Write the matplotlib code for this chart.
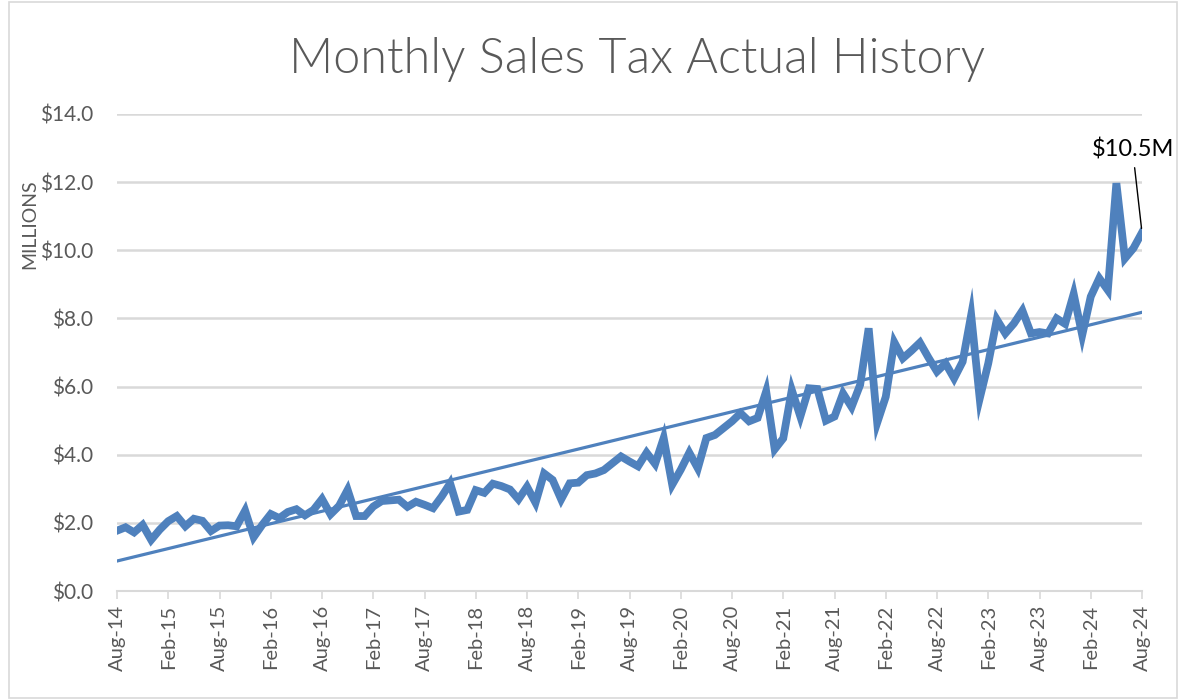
import matplotlib
matplotlib.use('Agg')
import matplotlib.pyplot as plt
from matplotlib.patches import Rectangle
import numpy as np
import pandas as pd

# monthly sales tax, millions of dollars, Aug-14 .. Aug-24
start_month = '2014-08-01'
sales = [
    1.77, 1.87, 1.72, 1.94, 1.50, 1.80, 2.05, 2.20, 1.90, 2.12, 2.06, 1.76,
    1.92, 1.93, 1.90, 2.36, 1.58, 1.94, 2.26, 2.14, 2.32, 2.40, 2.22, 2.38,
    2.70, 2.25, 2.50, 2.97, 2.20, 2.20, 2.48, 2.64, 2.66, 2.68, 2.47, 2.62,
    2.53, 2.43, 2.77, 3.16, 2.33, 2.38, 2.96, 2.88, 3.15, 3.08, 2.98, 2.69,
    3.06, 2.59, 3.45, 3.26, 2.69, 3.16, 3.18, 3.40, 3.45, 3.55, 3.75, 3.95,
    3.80, 3.66, 4.06, 3.73, 4.49, 3.12, 3.56, 4.06, 3.60, 4.49, 4.58, 4.78,
    4.98, 5.22, 4.98, 5.08, 5.86, 4.16, 4.48, 5.90, 5.12, 5.95, 5.93, 5.00,
    5.12, 5.80, 5.40, 6.05, 7.71, 4.94, 5.70, 7.30, 6.83, 7.05, 7.29, 6.85,
    6.44, 6.68, 6.24, 6.73, 8.10, 5.65, 6.68, 7.97, 7.56, 7.85, 8.23, 7.56,
    7.60, 7.56, 8.00, 7.84, 8.72, 7.51, 8.64, 9.18, 8.83, 11.97, 9.76, 10.06,
    10.52,
]
# linear trendline, value at first and last month
trend_ends = [0.88, 8.18]
y_ticks = [0, 2, 4, 6, 8, 10, 12, 14]
last_label = '$10.5M'

months = pd.date_range(start_month, periods=len(sales), freq='MS')
x = np.arange(len(sales))
month_labels = [d.strftime('%b-%y') for d in months]

blue = '#4F81BD'
grey_text = '#595959'
grid_col = '#D9D9D9'

plt.rcParams['font.family'] = ['Lato', 'DejaVu Sans']

fig = plt.figure(figsize=(11.82, 7), dpi=100)
ax = fig.add_axes([117 / 1182, 1 - 591 / 700, (1142 - 117) / 1182, (591 - 114) / 700])

ax.plot([x[0], x[-1]], trend_ends, color=blue, lw=2.3, zorder=2)
ax.plot(x, sales, color=blue, lw=5.6, solid_joinstyle='miter', zorder=3)

ax.set_xlim(0, len(sales) - 1)
ax.set_ylim(0, 14)
ax.set_yticks(y_ticks)
ax.set_yticklabels([f'${v:.1f}' for v in y_ticks])
ax.yaxis.grid(True, color=grid_col, lw=1.8)
ax.set_axisbelow(True)

tick_pos = x[::6]
ax.set_xticks(tick_pos)
ax.set_xticklabels([month_labels[i] for i in tick_pos], rotation=90)

for s in ['top', 'right', 'left']:
    ax.spines[s].set_visible(False)
ax.spines['bottom'].set_color(grid_col)
ax.spines['bottom'].set_linewidth(1.5)
ax.tick_params(axis='y', length=0, pad=17, labelsize=15, labelcolor=grey_text)
ax.tick_params(axis='x', length=6, width=1.2, color=grid_col, pad=4,
               labelsize=14.5, labelcolor=grey_text)

ax.annotate(last_label, xy=(x[-1], sales[-1]), xytext=(118.9, 12.95),
            ha='center', va='center', fontsize=17, color='black',
            arrowprops=dict(arrowstyle='-', color='black', lw=1,
                            shrinkA=3, shrinkB=3))

fig.text(637 / 1182, 1 - 60 / 700, 'Monthly Sales Tax Actual History',
         ha='center', va='center', fontsize=35, color=grey_text,
         fontweight=300)
fig.text(30 / 1182, 1 - 224 / 700, 'MILLIONS', rotation=90, ha='center',
         va='center', fontsize=14, color=grey_text)

fig.patches.append(Rectangle((9 / 1182, 2 / 700), 1 - 14 / 1182, 1 - 4 / 700,
                             transform=fig.transFigure, fill=False,
                             edgecolor=grid_col, lw=1.2))

plt.savefig('out.png', dpi=100)
